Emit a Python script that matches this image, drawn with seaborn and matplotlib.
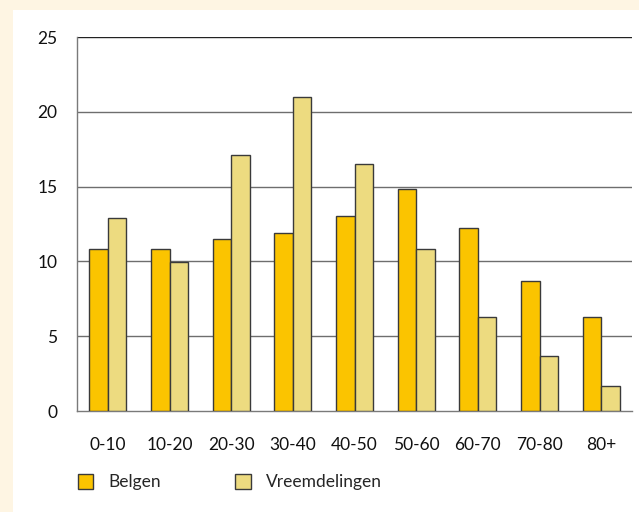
import pandas as pd
import numpy as np
import seaborn as sns
from matplotlib import pyplot as plt
from matplotlib.patches import Rectangle, Patch

# data
age_groups = ["0-10", "10-20", "20-30", "30-40", "40-50", "50-60", "60-70", "70-80", "80+"]
belgen = [10.8, 10.8, 11.5, 11.9, 13.05, 14.85, 12.25, 8.7, 6.3]
vreemdelingen = [12.9, 9.95, 17.1, 21.0, 16.5, 10.8, 6.3, 3.7, 1.7]
series_names = ["Belgen", "Vreemdelingen"]
y_ticks = [0, 5, 10, 15, 20, 25]

colors = {"Belgen": "#FBC400", "Vreemdelingen": "#EDDB80"}

df = pd.DataFrame({
    "groep": age_groups * 2,
    "waarde": belgen + vreemdelingen,
    "reeks": [series_names[0]] * len(age_groups) + [series_names[1]] * len(age_groups),
})

sns.set_theme(style="white")
plt.rcParams["font.family"] = ["Lato", "DejaVu Sans"]

fig = plt.figure(figsize=(6.39, 5.12), dpi=100)
fig.patch.set_facecolor("#FEF5E3")
# white card on the cream background
fig.patches.append(Rectangle((13 / 639, 0), 1 - 13 / 639, 1 - 10 / 512,
                             transform=fig.transFigure, facecolor="white",
                             edgecolor="none", zorder=-5))

ax = fig.add_axes([77 / 639, 1 - 411 / 512, (632 - 77) / 639, (411 - 37) / 512])
ax.set_zorder(2)
ax.set_facecolor("white")

sns.barplot(data=df, x="groep", y="waarde", hue="reeks", palette=colors,
            saturation=1, width=0.6, edgecolor="#3a3a3a", linewidth=1.0, ax=ax,
            legend=False, zorder=3)

ax.set_ylim(0, 25)
ax.set_xlim(-0.5, len(age_groups) - 0.5)
ax.set_yticks(y_ticks)
ax.set_xlabel("")
ax.set_ylabel("")

# grid lines
for v in y_ticks[1:-1]:
    ax.axhline(v, color="#6e6e6e", lw=1.0, zorder=1)
ax.axhline(25, color="#222222", lw=1.0, zorder=1)

for side in ["top", "right"]:
    ax.spines[side].set_visible(False)
ax.spines["left"].set_color("#7a7a7a")
ax.spines["bottom"].set_color("#7a7a7a")
ax.spines["left"].set_linewidth(1.0)
ax.spines["bottom"].set_linewidth(1.0)

ax.tick_params(axis="y", length=0, pad=14, labelsize=12.5, colors="#111111")
ax.tick_params(axis="x", which="major", length=0, pad=19, labelsize=12.5, colors="#111111")
ax.set_xticks(np.arange(0.5, len(age_groups)), minor=True)
ax.tick_params(axis="x", which="minor", direction="in", length=11, width=1.0, color="#555555")

handles = [Patch(facecolor=colors[n], edgecolor="#3a3a3a", linewidth=1.0) for n in series_names]
fig.legend(handles, series_names, loc="center left", bbox_to_anchor=(62 / 639, 1 - 482 / 512),
           ncol=2, frameon=False, fontsize=12.5, handlelength=0.9, handleheight=1.0,
           handletextpad=0.85, columnspacing=4.3)

fig.savefig("out.png", dpi=100, facecolor=fig.get_facecolor())
